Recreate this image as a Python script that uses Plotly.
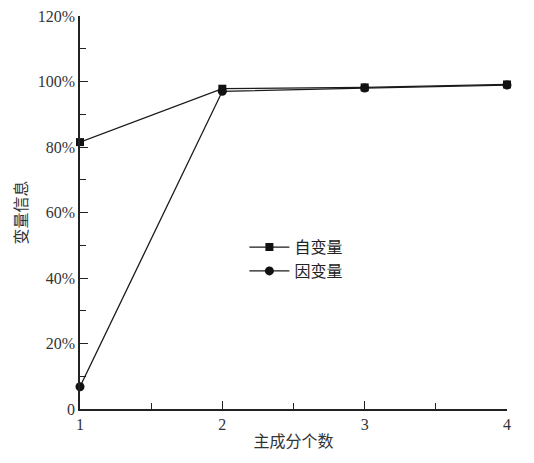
import plotly.graph_objects as go

# 主成分个数
n_components = [1, 2, 3, 4]
# 累计变量信息 (%)
x_info = [81.5, 97.8, 98.2, 99.1]   # 自变量
y_info = [6.8, 97.0, 98.0, 98.9]    # 因变量

y_tickvals = [0, 20, 40, 60, 80, 100, 120]
y_ticktext = ["0", "20%", "40%", "60%", "80%", "100%", "120%"]
x_tickvals = [1, 2, 3, 4]

serif = "Liberation Serif, Times New Roman, serif"
cjk = "Noto Sans CJK SC, serif"

fig = go.Figure()
fig.add_trace(go.Scatter(
    x=n_components, y=x_info, mode='lines+markers', name='自变量',
    line=dict(color='#1a1a1a', width=1.3),
    marker=dict(symbol='square', size=8, color='#111111'),
    cliponaxis=False,
))
fig.add_trace(go.Scatter(
    x=n_components, y=y_info, mode='lines+markers', name='因变量',
    line=dict(color='#1a1a1a', width=1.3),
    marker=dict(symbol='circle', size=9, color='#111111'),
    cliponaxis=False,
))

fig.update_xaxes(
    range=[1, 4], tickvals=x_tickvals, ticks='inside', ticklen=8, tickwidth=1.2,
    tickcolor='#222', showline=True, linecolor='#222', linewidth=1.5,
    showgrid=False, zeroline=False, mirror=False, automargin=False,
    tickfont=dict(family=serif, size=16, color='#333'),
    minor=dict(tickvals=[1.5, 2.5, 3.5], ticks='inside', ticklen=6, tickcolor='#222'),
    title=dict(text='主成分个数', font=dict(family=cjk, size=16, color='#333'), standoff=4),
)
fig.update_yaxes(
    range=[0, 120], tickvals=y_tickvals, ticktext=y_ticktext, ticks='inside',
    ticklen=8, tickwidth=1.2, tickcolor='#222', showline=True, linecolor='#222',
    linewidth=1.5, showgrid=False, zeroline=False, automargin=False,
    ticklabeloverflow='allow',
    tickfont=dict(family=serif, size=16, color='#333'),
    minor=dict(tickvals=[10, 30, 50, 70, 90, 110], ticks='inside', ticklen=6, tickcolor='#222'),
    title=dict(text='变量信息', font=dict(family=cjk, size=16, color='#333'), standoff=8),
)
fig.update_layout(
    width=534, height=463,
    margin=dict(l=72, r=35, t=8, b=62),
    plot_bgcolor='white', paper_bgcolor='white',
    legend=dict(
        x=0.385, y=0.455, xanchor='left', yanchor='top',
        bgcolor='rgba(0,0,0,0)', font=dict(family=cjk, size=16, color='#222'),
        itemwidth=40, tracegroupgap=9,
    ),
)
fig.write_html("out.html")
